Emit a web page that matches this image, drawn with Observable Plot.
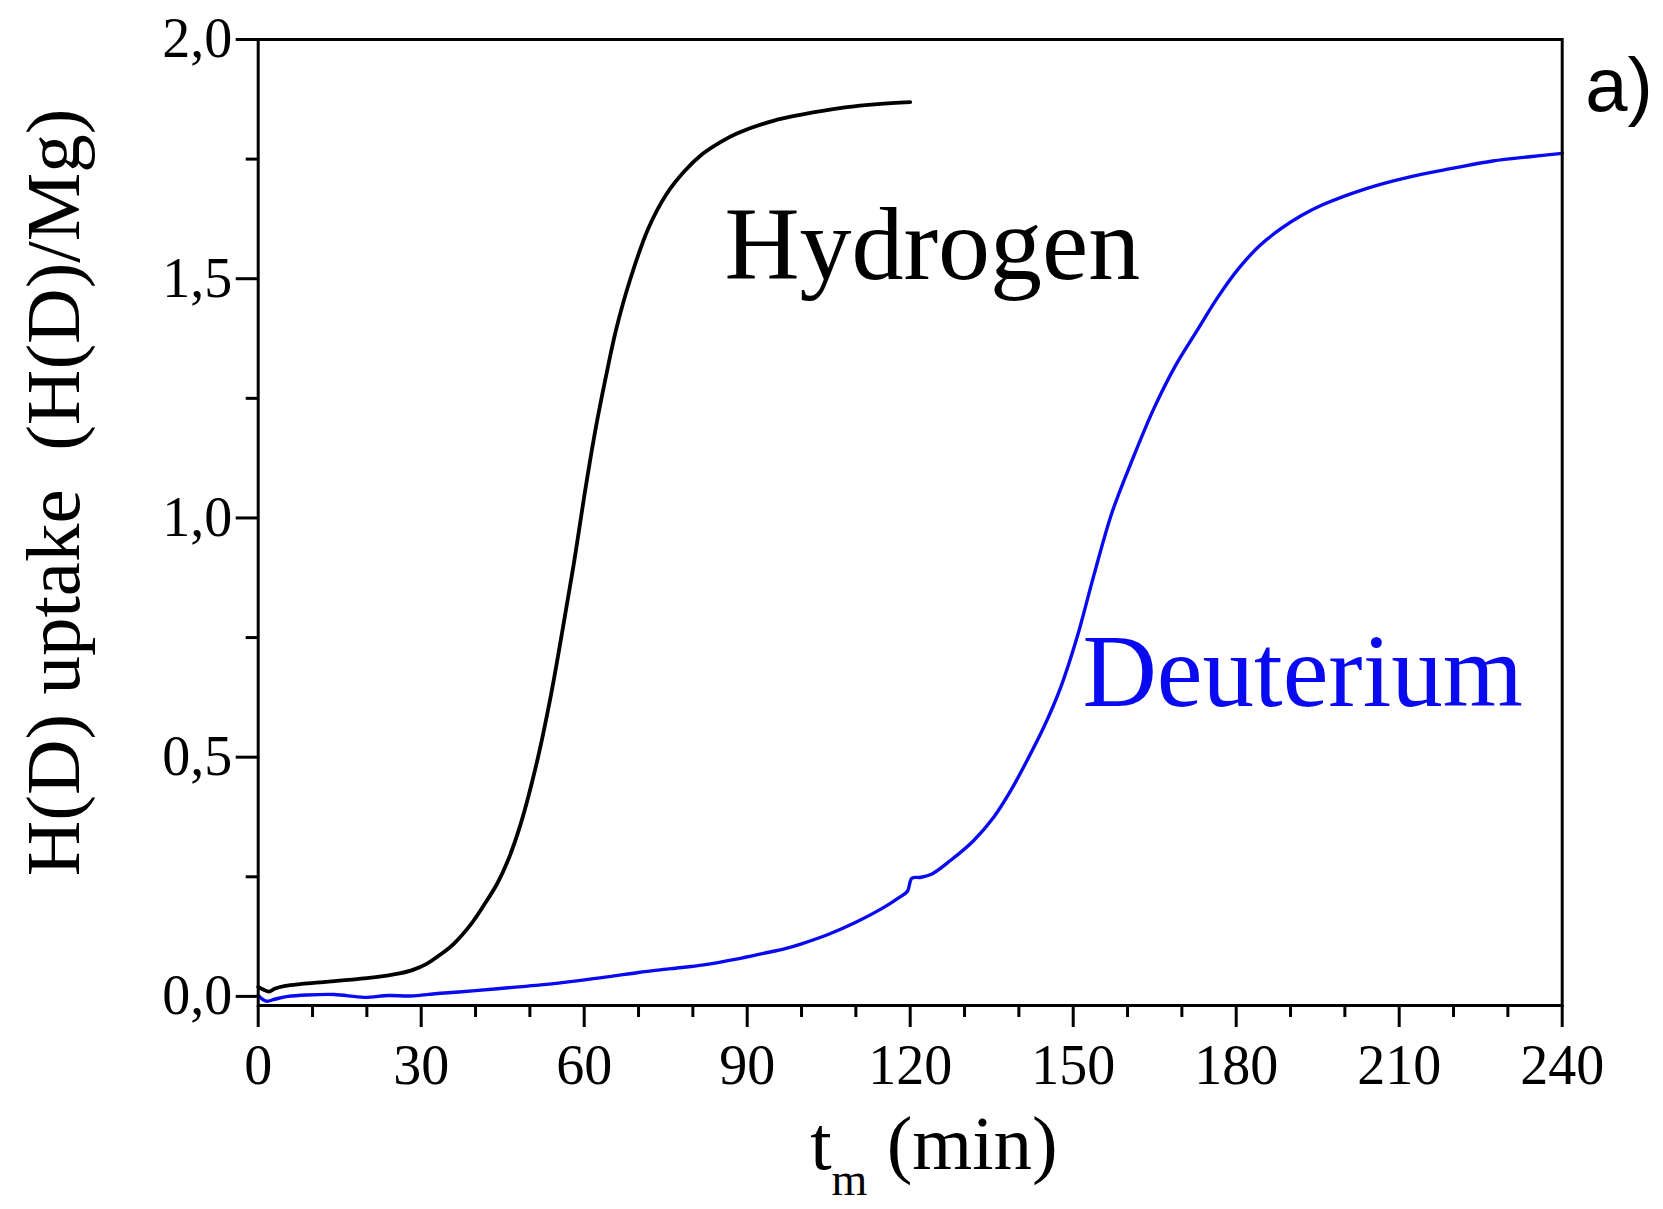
<!DOCTYPE html>
<html><head><meta charset="utf-8">
<script src="https://cdn.jsdelivr.net/npm/d3@7"></script>
<script src="https://cdn.jsdelivr.net/npm/@observablehq/plot@0.6"></script>
<style>
html,body{margin:0;padding:0;background:#fff;}
#chart svg{display:block;}
</style></head><body><div id="chart"></div>
<script>
// ---- data ----
const hydrogenT = [0,1,2,3,5,8,12,16,20,24,26,28.6,31,33.6,36,39.1,41.5,44,46,48.3,51.3,53.8,56,58.1,60,62,63.9,65.9,68.5,71.8,75.1,78.4,81.7,85,88.2,94.8,100,108,114,120];
const hydrogenV = [0.02,0.014,0.01,0.016,0.022,0.026,0.03,0.034,0.038,0.044,0.048,0.056,0.068,0.088,0.11,0.15,0.19,0.236,0.285,0.36,0.49,0.625,0.765,0.905,1.045,1.18,1.29,1.395,1.5,1.605,1.676,1.724,1.76,1.785,1.804,1.83,1.843,1.858,1.865,1.869];

const deuteriumT = [0,1.5,3,5.5,9,14,19.5,24,28,33,40,46,52,59,65,70,76,82,88,93,97,100,105,110,115,118,119.5,120.3,122,124,127.4,131.7,135.4,138.5,141.5,144.6,147.7,150.7,153.8,157.1,161,164.9,168.8,172.7,176.6,180.5,184.4,188.3,192,196,203.8,211.6,220,227.2,234,240];
const deuteriumV = [0.002,-0.01,-0.006,0.0,0.003,0.004,-0.002,0.002,0.001,0.006,0.012,0.018,0.024,0.033,0.042,0.05,0.058,0.066,0.078,0.09,0.1,0.11,0.13,0.155,0.185,0.207,0.22,0.247,0.249,0.256,0.284,0.326,0.375,0.43,0.493,0.563,0.646,0.75,0.88,1.01,1.125,1.23,1.318,1.39,1.461,1.522,1.57,1.605,1.632,1.655,1.688,1.712,1.731,1.746,1.755,1.762];

const xTicks = [0,30,60,90,120,150,180,210,240];
const xMinorTicks = [10,20,40,50,70,80,100,110,130,140,160,170,190,200,220,230];
const yTicks = [0,0.5,1.0,1.5,2.0];
const yMinorTicks = [0.25,0.75,1.25,1.75];

const seriesNames = ["Hydrogen","Deuterium"];
const labelT = [85.8, 151.7];
const labelV = [1.50, 0.608];
const panelTag = "a)";
const yLabel = "H(D) uptake\u00a0 (H(D)/Mg)";
const xLabelMain = "t";
const xLabelSub = "m";
const xLabelUnit = "\u00a0(min)";

// ---- build tables ----
const hydrogen = hydrogenT.map((t,i)=>({t, v: hydrogenV[i]}));
const deuterium = deuteriumT.map((t,i)=>({t, v: deuteriumV[i]}));
const labels = seriesNames.map((name,i)=>({name, t: labelT[i], v: labelV[i]}));

const BLUE = "#0a0af0";
const SERIF = "Liberation Serif, Times New Roman, serif";
const SANS = "Liberation Sans, Arial, sans-serif";

const chart = Plot.plot({
  width: 1663,
  height: 1209,
  marginLeft: 257.7,
  marginRight: 101.3,
  marginTop: 39,
  marginBottom: 204,
  style: {fontFamily: SERIF, background: "white", overflow: "visible", color: "black"},
  x: {domain: [0, 240]},
  y: {domain: [-0.019, 2.0]},
  marks: [
    Plot.line(hydrogen, {x: "t", y: "v", stroke: "black", strokeWidth: 3.8, curve: "catmull-rom"}),
    Plot.line(deuterium, {x: "t", y: "v", stroke: BLUE, strokeWidth: 3.4, curve: "catmull-rom"}),
    Plot.frame({stroke: "black", strokeWidth: 3}),
    Plot.axisX(xTicks, {tickSize: 22, strokeWidth: 3, tickPadding: 17, fontSize: 56, fontFamily: SERIF, label: null, tickFormat: d => String(d)}),
    Plot.axisX(xMinorTicks, {tickSize: 12, strokeWidth: 3, fill: "none", label: null}),
    Plot.axisY(yTicks, {tickSize: 22, strokeWidth: 3, tickPadding: 4, fontSize: 56, fontFamily: SERIF, label: null, tickFormat: d => d.toFixed(1).replace(".", ",")}),
    Plot.axisY(yMinorTicks, {tickSize: 12, strokeWidth: 3, fill: "none", label: null}),
    Plot.text(labels.filter(d => d.name === "Hydrogen"), {x: "t", y: "v", text: "name", fill: "black", textAnchor: "start", lineAnchor: "bottom", fontSize: 104, fontFamily: SERIF}),
    Plot.text(labels.filter(d => d.name === "Deuterium"), {x: "t", y: "v", text: "name", fill: BLUE, textAnchor: "start", lineAnchor: "bottom", fontSize: 103, fontFamily: SERIF}),
    Plot.text([panelTag], {frameAnchor: "top-right", textAnchor: "start", lineAnchor: "bottom", dx: 23, dy: 71, fontSize: 76, fontFamily: SANS, fill: "black"}),
    Plot.text([yLabel], {frameAnchor: "left", rotate: -90, textAnchor: "middle", lineAnchor: "bottom", dx: -179.7, dy: -30, fontSize: 77, fontFamily: SERIF, fill: "black"}),
    Plot.text([xLabelMain + xLabelSub + xLabelUnit], {frameAnchor: "bottom-left", textAnchor: "start", lineAnchor: "bottom", dx: 552, dy: 163, fontSize: 77, fontFamily: SERIF, fill: "black"})
  ]
});

// rebuild x label with a subscript
d3.select(chart).selectAll("text").filter(function(){ return this.textContent === xLabelMain + xLabelSub + xLabelUnit; })
  .each(function(){
    const t = d3.select(this);
    t.text(null);
    t.append("tspan").text(xLabelMain);
    t.append("tspan").attr("dy", 26).attr("font-size", 46).text(xLabelSub);
    t.append("tspan").attr("dy", -26).text(xLabelUnit);
  });

document.getElementById("chart").append(chart);
</script>
</body></html>
